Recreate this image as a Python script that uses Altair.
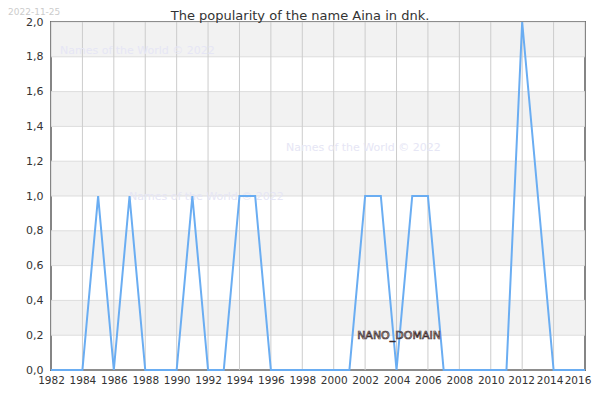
import altair as alt
import pandas as pd

years = list(range(1982, 2017))
values = [0, 0, 0, 1, 0, 1, 0, 0, 0, 1, 0, 0, 1, 1, 0, 0, 0, 0, 0, 0,
          1, 1, 0, 1, 1, 0, 0, 0, 0, 0, 2, 1, 0, 0, 0]
band_start = [0.2, 0.6, 1.0, 1.4, 1.8]
band_end = [0.4, 0.8, 1.2, 1.6, 2.0]
x_ticks = list(range(1982, 2017, 2))
y_ticks = [0.0, 0.2, 0.4, 0.6, 0.8, 1.0, 1.2, 1.4, 1.6, 1.8, 2.0]
wm_text = ["Names of the World © 2022"] * 3
wm_x = [9, 235, 78]
wm_y = [29, 126, 175]
title_text = "The popularity of the name Aina in dnk."

FONT = "DejaVu Sans"
W, H = 534, 348

df = pd.DataFrame({"year": years, "value": values})
bands = pd.DataFrame({"y": band_start, "y2": band_end})
wm = pd.DataFrame({"t": wm_text, "px": wm_x, "py": wm_y})
xt = pd.DataFrame({"year": x_ticks})
yt = pd.DataFrame({"value": y_ticks})

xs = alt.Scale(domain=[1982, 2016], nice=False, zero=False)
ys = alt.Scale(domain=[0, 2], nice=False)

X_AX = alt.Axis(values=x_ticks, format="d", grid=False, ticks=False,
                labelPadding=5, domain=False, labelOverlap=False, labelFlush=False,
                labelFontSize=10.5,
                labelOffset=alt.ExprRef(
                    "datum.value == 2016 ? -7.5 : (datum.value == 2014 ? -4 : (datum.value == 2012 ? -1 : 0))"))
Y_AX = alt.Axis(values=y_ticks, grid=False, ticks=False, labelPadding=8,
                domain=False, labelOverlap=False, labelFlush=False,
                labelExpr="replace(format(datum.value, '.1f'), '.', ',')")

band_layer = alt.Chart(bands).mark_rect(color="#f2f2f2").encode(
    y=alt.Y("y:Q", scale=ys, axis=Y_AX, title=None),
    y2="y2:Q",
    x=alt.value(0),
    x2=alt.value(W),
)

ygrid = alt.Chart(yt).mark_rule(color="#dddddd", strokeWidth=1).encode(
    y=alt.Y("value:Q", scale=ys, axis=Y_AX, title=None), x=alt.value(0), x2=alt.value(W))

xgrid = alt.Chart(xt).mark_rule(color="#cccccc", strokeWidth=1).encode(
    x=alt.X("year:Q", scale=xs, axis=X_AX, title=None),
    y=alt.value(0), y2=alt.value(H))

line = alt.Chart(df).mark_line(color="#6aadf2", strokeWidth=2).encode(
    x=alt.X("year:Q", scale=xs, axis=X_AX, title=None),
    y=alt.Y("value:Q", scale=ys, axis=Y_AX, title=None),
)

wm_layer = alt.Chart(wm).mark_text(align="left", baseline="middle", fontSize=11,
                                   font=FONT, color="#e6e6f5").encode(
    x=alt.X("px:Q", scale=None), y=alt.Y("py:Q", scale=None), text="t:N")

date = alt.Chart(pd.DataFrame({"t": ["2022-11-25"]})).mark_text(
    align="left", baseline="top", fontSize=9, font=FONT, color="#cccccc").encode(
    x=alt.value(-43), y=alt.value(-14), text="t:N")

title = alt.Chart(pd.DataFrame({"t": [title_text]})).mark_text(
    align="center", baseline="top", fontSize=13, font=FONT, color="#333333").encode(
    x=alt.value(249), y=alt.value(-12), text="t:N")

nano = alt.Chart(pd.DataFrame({"t": ["NANO_DOMAIN"]})).mark_text(
    align="center", baseline="middle", fontSize=11, font=FONT,
    fill="#efe4e4", stroke="#3b2b2b", strokeWidth=0.7).encode(
    x=alt.value(348), y=alt.value(314), text="t:N")

chart = alt.layer(band_layer, ygrid, xgrid, wm_layer, line, nano, date, title).properties(
    width=W, height=H,
    autosize=alt.AutoSizeParams(type="none"),
    padding={"left": 43, "top": 14, "right": 7, "bottom": 22},
).configure_view(
    stroke="#000000", strokeWidth=1.5).configure_axis(
    labelFont=FONT, labelFontSize=11, labelColor="#333333",
)

chart.save("out.html", embed_options={"renderer": "svg", "actions": False})
